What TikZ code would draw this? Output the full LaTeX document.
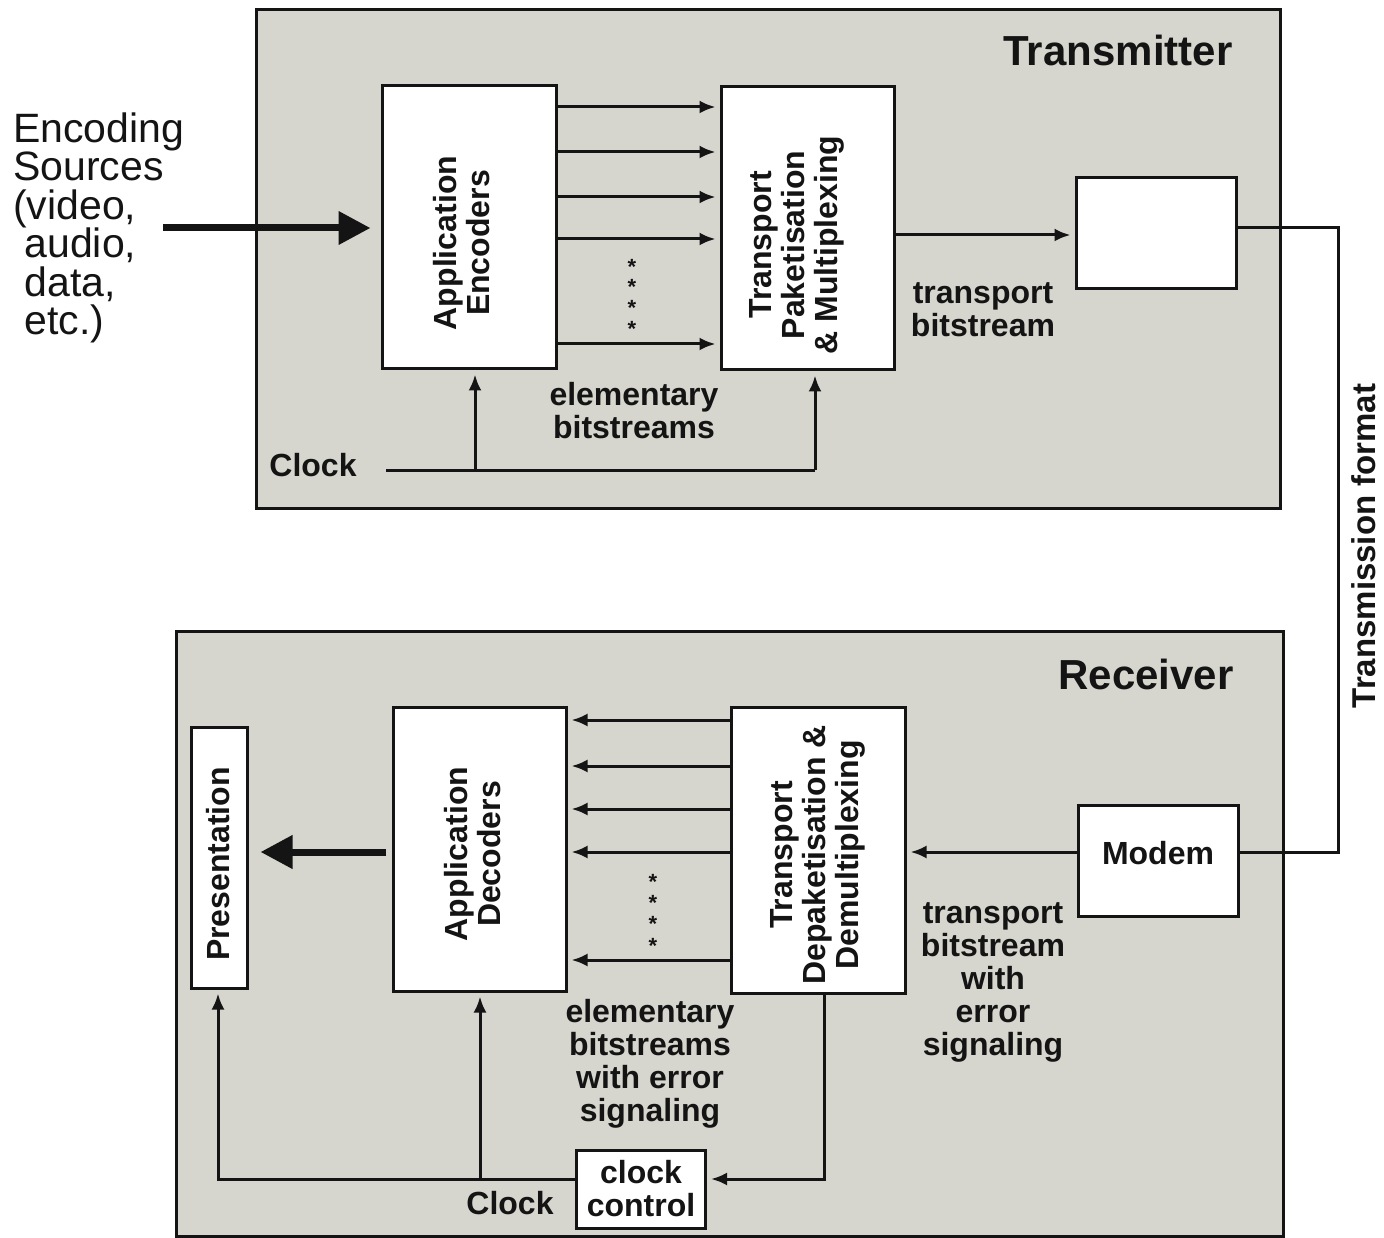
\documentclass[tikz,border=0pt]{standalone}
\usepackage{fontspec}
\setmainfont{Liberation Sans}
\usetikzlibrary{arrows.meta}
\definecolor{panelbg}{RGB}{214,214,206}
\definecolor{ink}{RGB}{20,20,20}
\tikzset{
  panel/.style={draw=ink,line width=3pt,fill=panelbg},
  blk/.style={draw=ink,line width=3pt,fill=white,inner sep=0pt},
  lbl/.style={font=\bfseries\fontsize{32}{33}\selectfont,align=center,text=ink,inner sep=0pt},
  rlbl/.style={lbl,rotate=90},
  title/.style={font=\bfseries\fontsize{42}{44}\selectfont,text=ink,inner sep=0pt},
  wire/.style={draw=ink,line width=3pt},
  arr/.style={wire,-{Latex[length=16pt,width=13pt]},shorten >=4pt},
  fat/.style={draw=ink,line width=7pt,-{Triangle[length=32pt,width=32pt]}},
  starmark/.style={font=\bfseries\fontsize{22}{22}\selectfont,text=ink,inner sep=0pt},
}
\begin{document}
\begin{tikzpicture}[x=1pt,y=-1pt]
\useasboundingbox (0,0) rectangle (1384,1238);
% panels
\draw[panel] (256,10) rectangle (1280,508);
\draw[panel] (176,631) rectangle (1283,1236);
\node[title] (ttx) at (1118,50) {Transmitter};
\node[title] (trx) at (1146,674) {Receiver};
% transmitter blocks
\node[blk,minimum width=174pt,minimum height=283pt] (enc) at (469,227.5) {};
\node[rlbl] (encT) at (462,243) {Application\\Encoders};
\node[blk,minimum width=173pt,minimum height=283pt] (mux) at (807.5,228.5) {};
\node[rlbl] (muxT) at (797,245) {Transport\\Paketisation\\\& Multiplexing};
\node[blk,minimum width=160pt,minimum height=111pt] (tbox) at (1156,233.5) {};
% source
\node[anchor=west,align=left,font=\fontsize{41}{38.5}\selectfont,text=ink,inner sep=0pt] (src) at (13,228)
  {Encoding\\Sources\\(video,\\\ audio,\\\ data,\\\ etc.)};
\coordinate (fatstart) at (163,228);
\draw[fat,shorten >=10pt] (fatstart) -- (enc.west |- fatstart);
% elementary bitstreams
\foreach \yy in {107,152,197,239,344}
  \draw[arr] (enc.east |- 0,\yy) -- (mux.west |- 0,\yy);
\foreach \yy in {267,287,308,329}
  \node[starmark] at (632,\yy) {*};
\node[lbl] (eb) at (634,411) {elementary\\bitstreams};
% clock
\node[lbl] (clk) at (313,465) {Clock};
\coordinate (clkstart) at (386,470);
\coordinate (clkbr) at (475,470);
\coordinate (clkend) at (815,470);
\draw[wire] (clkstart) -- (clkend);
\draw[arr] (clkend) -- (mux.south -| clkend);
\draw[arr] (clkbr) -- (enc.south -| clkbr);
% output
\draw[arr] (mux.east |- 0,235) -- (tbox.west |- 0,235);
\node[lbl] (tb) at (983,310) {transport\\bitstream};
% transmission
\node[blk,minimum width=160pt,minimum height=111pt] (modem) at (1158,860.5) {};
\node[lbl] (modemT) at (1158,853) {Modem};
\coordinate (tr1) at (1338,228);
\coordinate (tr2) at (1338,852);
\draw[wire] (tbox.east |- tr1) -- (tr1) -- (tr2) -- (modem.east |- tr2);
\node[rotate=90,font=\bfseries\fontsize{33}{33}\selectfont,text=ink,inner sep=0pt] (tf) at (1364,546) {Transmission format};
% receiver blocks
\node[blk,minimum width=56pt,minimum height=261pt] (pres) at (219,857.5) {};
\node[rlbl] (presT) at (218,864) {Presentation};
\node[blk,minimum width=173pt,minimum height=284pt] (dec) at (479.5,849) {};
\node[rlbl] (decT) at (473,854) {Application\\Decoders};
\node[blk,minimum width=174pt,minimum height=286pt] (demux) at (818,850) {};
\node[rlbl] (demuxT) at (818,855) {Transport\\Depaketisation \&\\Demultiplexing};
\draw[arr] (modem.west |- 0,852) -- (demux.east |- 0,852);
\node[lbl] (tbe) at (993,982) {transport\\bitstream\\with\\error\\signaling};
\foreach \yy in {720,766,809,852,960}
  \draw[arr] (demux.west |- 0,\yy) -- (dec.east |- 0,\yy);
\foreach \yy in {882,903,924,946}
  \node[starmark] at (653,\yy) {*};
\node[lbl] (ebe) at (650,1064) {elementary\\bitstreams\\with error\\signaling};
\coordinate (fat2) at (386,852);
\draw[fat,shorten >=12pt] (fat2) -- (pres.east |- fat2);
% clock control
\node[blk,minimum width=129pt,minimum height=78pt] (cc) at (641,1189) {};
\node[lbl] (ccT) at (cc.center) {clock\\control};
\node[lbl] (clk2) at (510,1203) {Clock};
\coordinate (cd1) at (824,1179);
\draw[arr] (demux.south -| cd1) -- (cd1) -- (cc.east |- cd1);
\coordinate (cl1) at (218,1179);
\coordinate (cl2) at (480,1179);
\draw[arr] (cc.west |- cl1) -- (cl1) -- (pres.south -| cl1);
\draw[arr] (cl2) -- (dec.south -| cl2);
\end{tikzpicture}
\end{document}
